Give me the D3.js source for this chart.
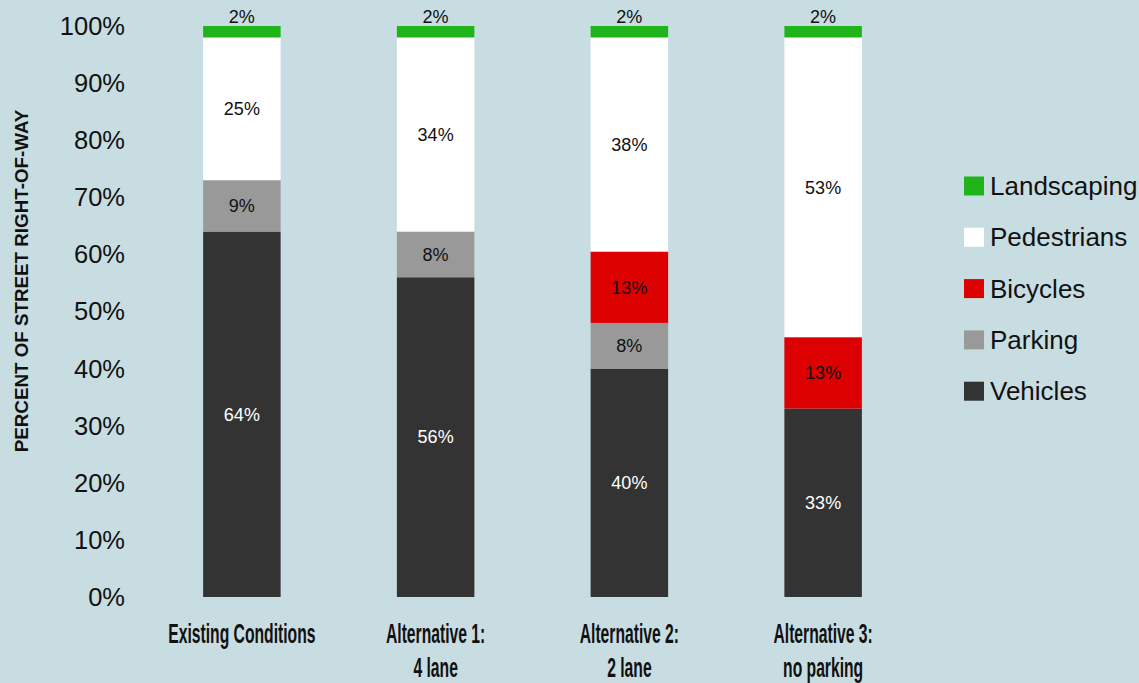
<!DOCTYPE html>
<html><head><meta charset="utf-8">
<script src="https://cdn.jsdelivr.net/npm/d3@7"></script>
<style>
html,body{margin:0;padding:0;background:#c8dde2;}
svg{display:block;}
</style></head>
<body>
<svg id="chart" width="1139" height="683"></svg>
<script>
const categories = ["Existing Conditions", "Alternative 1:|4 lane", "Alternative 2:|2 lane", "Alternative 3:|no parking"];
const series = ["Vehicles", "Parking", "Bicycles", "Pedestrians", "Landscaping"];
const vehicles    = [64, 56, 40, 33];
const parking     = [9, 8, 8, 0];
const bicycles    = [0, 0, 12.5, 12.5];
const pedestrians = [25, 34, 37.5, 52.5];
const landscaping = [2, 2, 2, 2];
const yTicks = [0, 10, 20, 30, 40, 50, 60, 70, 80, 90, 100];
const colors = {Vehicles:"#333333", Parking:"#999999", Bicycles:"#dd0000", Pedestrians:"#ffffff", Landscaping:"#1fb51a"};
const labelColors = {Vehicles:"#ffffff", Parking:"#111111", Bicycles:"#111111", Pedestrians:"#111111", Landscaping:"#111111"};

const rows = categories.map((c, i) => ({
  cat: c, Vehicles: vehicles[i], Parking: parking[i], Bicycles: bicycles[i],
  Pedestrians: pedestrians[i], Landscaping: landscaping[i]
}));

const svg = d3.select("#chart");
const x = d3.scaleBand().domain(categories).range([145, 920]).paddingInner(0.6).paddingOuter(0.3);
const y = d3.scaleLinear().domain([0, 100]).range([597, 26]);

const stack = d3.stack().keys(series);
const layers = stack(rows);
const font = "'Liberation Sans', Arial, sans-serif";

// y axis tick labels
svg.append("g").selectAll("text").data(yTicks).join("text")
  .attr("x", 125).attr("y", d => y(d)).attr("dy", "0.35em")
  .attr("text-anchor", "end")
  .style("font-family", font)
  .style("font-size", "25.5px").attr("fill", "#111")
  .text(d => d + "%");

// y title
svg.append("text")
  .attr("transform", "translate(28,281) rotate(-90)")
  .attr("text-anchor", "middle")
  .style("font-family", font)
  .style("font-size", "18.8px").style("font-weight", "bold").attr("fill", "#111")
  .text("PERCENT OF STREET RIGHT-OF-WAY");

// bars
const g = svg.append("g");
layers.forEach(layer => {
  const key = layer.key;
  g.append("g").selectAll("rect").data(layer.filter(d => d[1] - d[0] > 0)).join("rect")
    .attr("x", d => x(d.data.cat))
    .attr("width", x.bandwidth())
    .attr("y", d => y(d[1]))
    .attr("height", d => y(d[0]) - y(d[1]))
    .attr("fill", colors[key]);
});

// labels
layers.forEach(layer => {
  const key = layer.key;
  g.append("g").selectAll("text").data(layer.filter(d => d.data[key] > 0)).join("text")
    .attr("x", d => x(d.data.cat) + x.bandwidth() / 2)
    .attr("y", d => key === "Landscaping" ? y(d[1]) - 9 : (y(d[0]) + y(d[1])) / 2)
    .attr("dy", "0.35em")
    .attr("text-anchor", "middle")
    .style("font-family", font)
    .style("font-size", "18px")
    .attr("fill", labelColors[key])
    .text(d => Math.round(d.data[key]) + "%");
});

// x labels
const xl = svg.append("g");
categories.forEach(c => {
  const lines = c.split("|");
  const cx = x(c) + x.bandwidth() / 2;
  const t = xl.append("text")
    .attr("transform", "translate(" + cx + ",643) scale(0.56,1)")
    .attr("text-anchor", "middle")
    .style("font-family", font)
    .style("font-size", "28px").style("font-weight", "bold").attr("fill", "#111");
  lines.forEach((l, i) => {
    t.append("tspan").attr("x", 0).attr("y", i * 34).text(l);
  });
});

// legend
const legendOrder = ["Landscaping", "Pedestrians", "Bicycles", "Parking", "Vehicles"];
const lg = svg.append("g");
legendOrder.forEach((k, i) => {
  const cy = 186 + i * 51.3;
  lg.append("rect").attr("x", 964).attr("y", cy - 9.5).attr("width", 20).attr("height", 19).attr("fill", colors[k]);
  lg.append("text").attr("x", 990).attr("y", cy).attr("dy", "0.35em")
    .style("font-family", font)
    .style("font-size", "26px").attr("fill", "#111").text(k);
});
</script>
</body></html>
